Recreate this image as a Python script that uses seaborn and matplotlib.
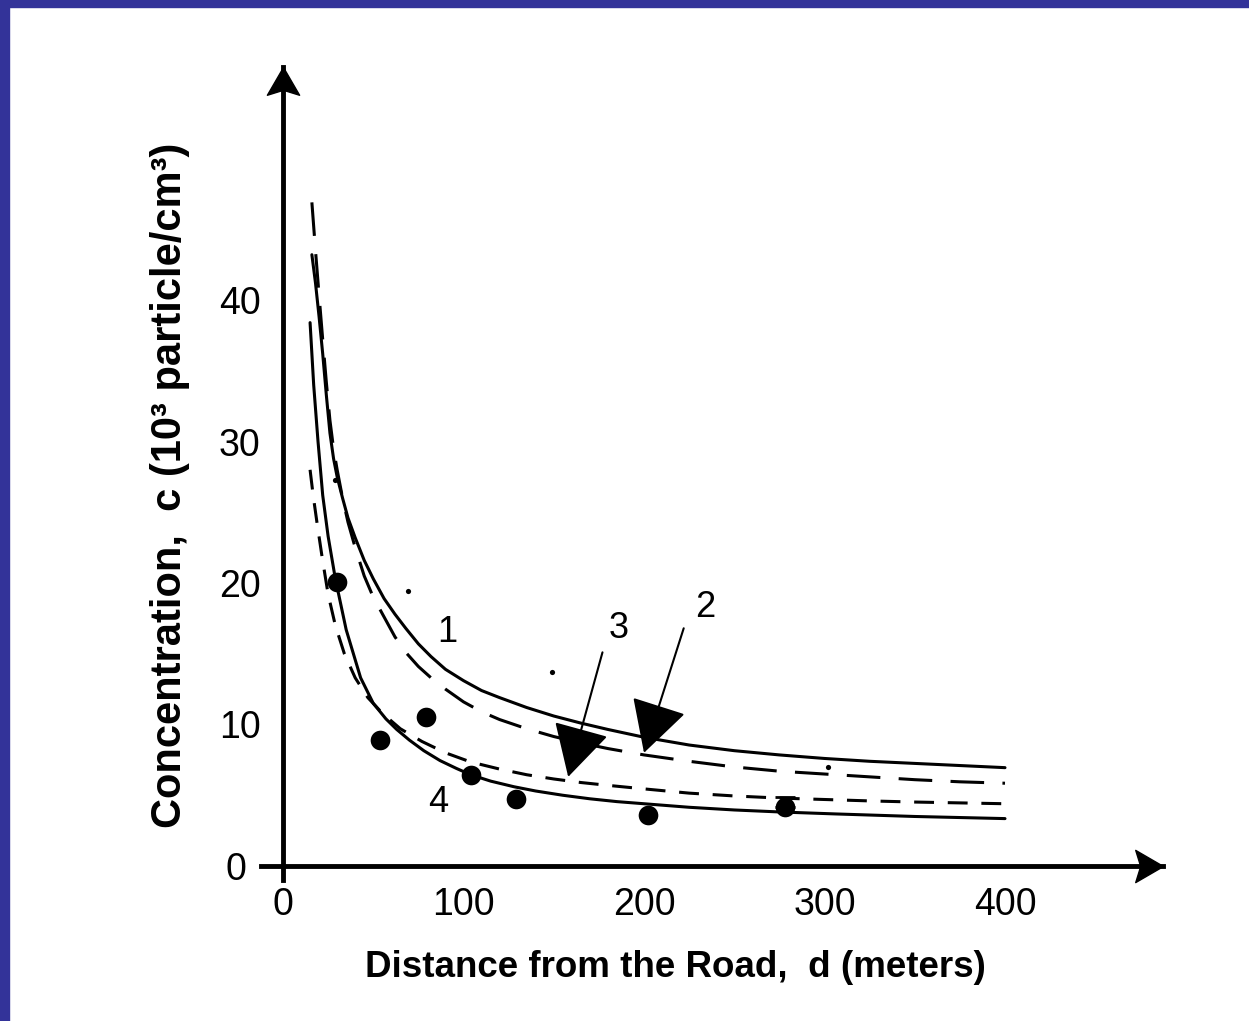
import matplotlib
matplotlib.use("Agg")
import matplotlib.pyplot as plt
from matplotlib import font_manager
from matplotlib.patches import Rectangle
from matplotlib.transforms import ScaledTranslation
import seaborn as sns
import pandas as pd

# ---- data ----
curve1_x = [16, 18, 20, 22, 24, 26, 28, 30, 33, 36, 40, 45, 50, 56, 62, 68, 75, 82, 90, 100, 110, 120, 135,
            150, 165, 180, 200, 225, 250, 275, 300, 325, 350, 375, 400]
curve1_y = [43.2, 41.2, 38.8, 36.2, 33.3, 30.6, 28.8, 27.5, 26.0, 24.6, 23.2, 21.6, 20.3, 18.9, 17.8, 16.8,
            15.7, 14.8, 13.9, 13.1, 12.4, 11.9, 11.2, 10.6, 10.1, 9.65, 9.1, 8.55, 8.15, 7.85, 7.6, 7.4,
            7.25, 7.1, 6.95]

curve2_x = [16, 18, 20, 22, 24, 26, 28, 30, 33, 36, 40, 45, 50, 56, 62, 68, 75, 82, 90, 100, 110, 120, 135,
            150, 165, 180, 200, 225, 250, 275, 300, 325, 350, 375, 400]
curve2_y = [46.9, 43.5, 40.3, 37.2, 34.2, 31.5, 29.5, 28.0, 26.0, 24.3, 22.5, 20.5, 19.0, 17.6, 16.2, 15.1,
            14.1, 13.3, 12.5, 11.6, 10.9, 10.35, 9.7, 9.15, 8.7, 8.3, 7.85, 7.4, 7.0, 6.7, 6.5, 6.3, 6.1,
            5.95, 5.85]

curve3_x = [15, 16.7, 18.9, 21.7, 25, 29, 34, 40, 47, 55, 65, 77, 90, 104, 120, 135, 150, 165, 180, 200,
            225, 250, 275, 300, 325, 350, 375, 400]
curve3_y = [28.0, 26.2, 24.2, 21.8, 19.2, 17.0, 15.0, 13.3, 11.9, 10.8, 9.7, 8.8, 8.0, 7.35, 6.85, 6.45,
            6.15, 5.9, 5.7, 5.45, 5.15, 4.95, 4.8, 4.7, 4.6, 4.52, 4.46, 4.4]

curve4_x = [15, 17, 19.4, 22, 25, 29, 35, 43, 50, 57, 63, 70, 78, 87, 96, 104, 115, 128, 140, 155, 170,
            185, 200, 225, 250, 275, 306, 350, 400]
curve4_y = [38.4, 34.0, 30.0, 26.2, 23.3, 20.3, 16.7, 13.3, 11.5, 10.4, 9.65, 8.9, 8.15, 7.45, 6.9, 6.45,
            6.0, 5.6, 5.3, 5.0, 4.75, 4.55, 4.4, 4.15, 3.96, 3.82, 3.68, 3.5, 3.35]

meas_x = [30, 53.7, 79.3, 104, 129, 202, 278]
meas_y = [20.1, 8.9, 10.5, 6.4, 4.7, 3.6, 4.2]

small_x = [29, 69.5, 149, 302]
small_y = [27.3, 19.4, 13.7, 7.0]

curve_labels = ["1", "2", "3", "4"]
x_ticks = [0, 100, 200, 300, 400]
y_ticks = [0, 10, 20, 30, 40]
x_label = "Distance from the Road,  d (meters)"
y_label = "Concentration,  c (10³ particle/cm³)"

# ---- styling ----
sns.set_style("white")
names = {f.name for f in font_manager.fontManager.ttflist}
narrow = "Liberation Sans Narrow" if "Liberation Sans Narrow" in names else "Liberation Sans"
plt.rcParams["font.family"] = ["Liberation Sans", "DejaVu Sans"]
plt.rcParams["text.color"] = "black"
plt.rcParams["axes.labelcolor"] = "black"
plt.rcParams["xtick.color"] = "black"
plt.rcParams["ytick.color"] = "black"

fig = plt.figure(figsize=(12.49, 10.21), dpi=100)
fig.patch.set_facecolor("white")
fig.add_artist(Rectangle((0, 1 - 7 / 1021), 1, 7 / 1021, transform=fig.transFigure,
                         color="#333399", zorder=10))
fig.add_artist(Rectangle((0, 0), 9 / 1249, 1, transform=fig.transFigure,
                         color="#333399", zorder=10))

xmin, xmax = -12, 487.5
ymin, ymax = -1, 56.5
px_per_x = 1.805
px_per_y = 14.15
left = (283 + xmin * px_per_x) / 1249
right = (283 + xmax * px_per_x) / 1249
bottom = (1021 - (866 - ymin * px_per_y)) / 1021
top = (1021 - (866 - ymax * px_per_y)) / 1021
ax = fig.add_axes([left, bottom, right - left, top - bottom])
ax.set_facecolor("white")

df = pd.concat([
    pd.DataFrame({"d": curve1_x, "c": curve1_y, "curve": "1"}),
    pd.DataFrame({"d": curve2_x, "c": curve2_y, "curve": "2"}),
    pd.DataFrame({"d": curve3_x, "c": curve3_y, "curve": "3"}),
    pd.DataFrame({"d": curve4_x, "c": curve4_y, "curve": "4"}),
], ignore_index=True)

sns.lineplot(data=df, x="d", y="c", style="curve",
             dashes={"1": "", "2": (11, 6), "3": (6.5, 4.5), "4": ""},
             color="black", linewidth=2.2, estimator=None, sort=False,
             legend=False, ax=ax)

sns.scatterplot(x=meas_x, y=meas_y, s=200, color="black", edgecolor="black",
                linewidth=0, ax=ax, zorder=5)
sns.scatterplot(x=small_x, y=small_y, s=14, color="black", edgecolor="black",
                linewidth=0, ax=ax, zorder=5)
ax.errorbar([meas_x[-1]], [meas_y[-1]], yerr=[[0], [0.7]], fmt="none",
            ecolor="black", elinewidth=2, capsize=7, capthick=2)

# curve labels and pointer arrows
txt_kw = dict(fontsize=26, color="black", ha="center", va="center")
ax.text(91, 16.5, curve_labels[0], **txt_kw)
ax.text(86, 4.5, curve_labels[3], **txt_kw)
arrow_kw = dict(arrowstyle="-|>,head_length=0.55,head_width=0.3",
                color="black", lw=1.5, mutation_scale=60, shrinkA=0, shrinkB=0)
ax.annotate("", xy=(200, 8.0), xytext=(222, 16.8), arrowprops=arrow_kw)
ax.text(234, 18.3, curve_labels[1], **txt_kw)
ax.annotate("", xy=(158, 6.3), xytext=(177, 15.1), arrowprops=arrow_kw)
ax.text(186, 16.8, curve_labels[2], **txt_kw)

ax.set_xlim(xmin, xmax)
ax.set_ylim(ymin, ymax)
ax.set_xlabel("")
ax.set_ylabel("")

for s in ["top", "right"]:
    ax.spines[s].set_visible(False)
for s in ["left", "bottom"]:
    ax.spines[s].set_position(("data", 0))
    ax.spines[s].set_linewidth(3.5)
    ax.spines[s].set_color("black")

# axis arrowheads
head_x = [(0, 0), (-1, 0.58), (-0.82, 0), (-1, -0.58), (0, 0)]
head_y = [(0, 0), (0.58, -1), (0, -0.82), (-0.58, -1), (0, 0)]
ax.plot([1], [0], marker=head_x, ms=40, color="black",
        transform=ax.get_yaxis_transform(), clip_on=False, zorder=6)
ax.plot([0], [1], marker=head_y, ms=40, color="black",
        transform=ax.get_xaxis_transform(), clip_on=False, zorder=6)

ax.set_xticks(x_ticks)
ax.set_yticks(y_ticks)
ax.set_xticklabels([str(v) for v in x_ticks])
ax.set_yticklabels([str(v) for v in y_ticks])
ax.tick_params(axis="x", direction="in", length=9, width=1.5, pad=15,
               labelsize=27, colors="black")
ax.tick_params(axis="y", direction="in", length=7, width=1.5, pad=16,
               labelsize=27, colors="black")
ax.grid(False)
lab0 = ax.get_yticklabels()[0]
lab0.set_transform(lab0.get_transform() + ScaledTranslation(-0.14, 0, fig.dpi_scale_trans))

fig.text(675 / 1249, 1 - 967 / 1021, x_label, family=[narrow, "DejaVu Sans"],
         fontweight="bold", fontsize=26.5, ha="center", va="center", color="black")
fig.text(170 / 1249, 1 - 485 / 1021, y_label, family=[narrow, "DejaVu Sans"],
         fontweight="bold", fontsize=30, ha="center", va="center", rotation=90,
         color="black")

fig.savefig("out.png", dpi=100, facecolor="white")
